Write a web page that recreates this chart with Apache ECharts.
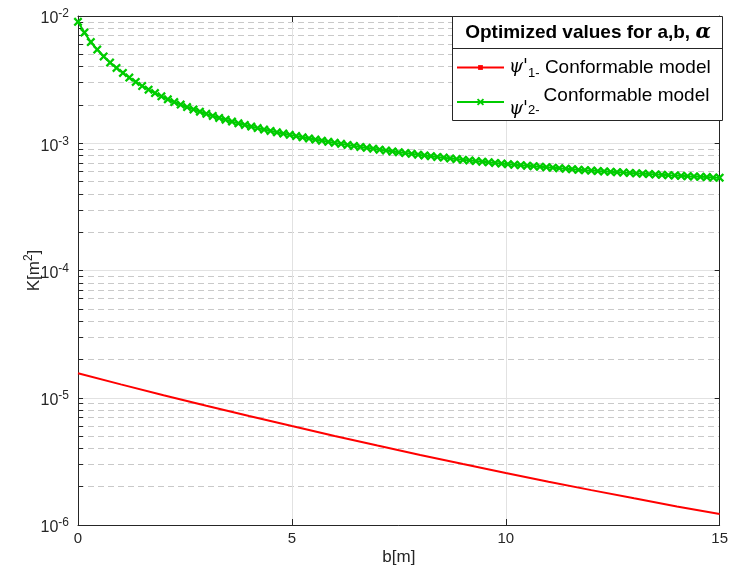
<!DOCTYPE html>
<html><head><meta charset="utf-8">
<script src="https://cdn.jsdelivr.net/npm/echarts@6/dist/echarts.min.js"></script>
<style>html,body{margin:0;padding:0;background:#fff}#c{width:731px;height:576px}</style>
</head><body><div id="c"></div>
<script>
const FONT = 'Liberation Sans, Arial, sans-serif';
const AX = '#262626';

// ---- tick definitions ----
const xTicks = [0, 5, 10, 15];
const yDecades = [1e-6, 1e-5, 1e-4, 1e-3, 1e-2];
const minorMultipliers = [2, 3, 4, 5, 6, 7, 8, 9];

// ---- series 1 (red): psi'_1 Conformable model ----
const redB = [0,1,2,3,4,5,6,7,8,9,10,11,12,13,14,15];
const redK = [1.556e-5,1.274e-5,1.048e-5,8.66e-6,7.18e-6,5.99e-6,5.01e-6,4.21e-6,
              3.55e-6,3.01e-6,2.56e-6,2.19e-6,1.88e-6,1.62e-6,1.40e-6,1.22e-6];

// ---- series 2 (green): psi'_2 Conformable model ----
const greenB = [0,0.15,0.3,0.45,0.6,0.75,0.9,1.05,1.2,1.35,1.5,1.65,1.8,1.95,2.1,2.25,2.4,2.55,2.7,2.85,
  3,3.15,3.3,3.45,3.6,3.75,3.9,4.05,4.2,4.35,4.5,4.65,4.8,4.95,5.1,5.25,5.4,5.55,5.7,5.85,
  6,6.15,6.3,6.45,6.6,6.75,6.9,7.05,7.2,7.35,7.5,7.65,7.8,7.95,8.1,8.25,8.4,8.55,8.7,8.85,
  9,9.15,9.3,9.45,9.6,9.75,9.9,10.05,10.2,10.35,10.5,10.65,10.8,10.95,11.1,11.25,11.4,11.55,11.7,11.85,
  12,12.15,12.3,12.45,12.6,12.75,12.9,13.05,13.2,13.35,13.5,13.65,13.8,13.95,14.1,14.25,14.4,14.55,14.7,14.85,15];
// values in units of 1e-3 m^2
const greenK_milli = [9.00,7.41,6.24,5.45,4.81,4.31,3.91,3.57,3.28,3.03,
  2.818,2.636,2.477,2.339,2.213,2.109,2.014,1.923,1.845,1.770,
  1.702,1.641,1.581,1.531,1.479,1.435,1.393,1.352,1.315,1.282,
  1.250,1.219,1.191,1.164,1.138,1.114,1.091,1.069,1.047,1.026,
  1.007,0.989,0.971,0.953,0.935,0.920,0.906,0.891,0.877,0.863,
  0.849,0.838,0.826,0.813,0.802,0.791,0.780,0.771,0.760,0.752,
  0.741,0.733,0.724,0.716,0.708,0.700,0.693,0.685,0.679,0.673,
  0.667,0.661,0.655,0.649,0.643,0.637,0.631,0.625,0.619,0.614,
  0.610,0.605,0.601,0.597,0.593,0.589,0.585,0.581,0.577,0.573,
  0.569,0.565,0.561,0.558,0.555,0.551,0.548,0.545,0.542,0.538,0.536];

const legendTitle = 'Optimized values for a,b, ';
const legendLabels = { psi1: '{psi|\u03c8\'}{sub|1-} Conformable model',
                       psi2: '{psi|\u03c8\'}{sub2|2-}{txt|Conformable model}' };

// build tick lists
const minorTicks = [];
for (let d = 0; d < yDecades.length - 1; d++) {
  for (const m of minorMultipliers) minorTicks.push(+(m * yDecades[d]).toPrecision(3));
}
const allTicks = yDecades.concat(minorTicks).sort((a, b) => a - b);

const redData = redB.map((b, i) => [b, redK[i]]);
const greenData = greenB.map((b, i) => [b, greenK_milli[i] * 1e-3]);

const chart = echarts.init(document.getElementById('c'), null, { renderer: 'canvas' });
const xSym = 'path://M0,1.8 L1.8,0 L5,3.2 L8.2,0 L10,1.8 L6.8,5 L10,8.2 L8.2,10 L5,6.8 L1.8,10 L0,8.2 L3.2,5 Z';

chart.setOption({
  animation: false,
  backgroundColor: '#fff',
  textStyle: { fontFamily: FONT },
  grid: { left: 78, right: 8, top: 16, bottom: 51, containLabel: false },
  xAxis: [
    { type: 'value', min: 0, max: 15, interval: 5, position: 'bottom',
      axisLine: { show: true, onZero: false, lineStyle: { color: AX, width: 1 } },
      axisTick: { show: true, inside: true, length: 6, lineStyle: { color: AX } },
      axisLabel: { color: AX, fontSize: 15, margin: 6, fontFamily: FONT },
      splitLine: { show: true, lineStyle: { color: '#e2e2e2', width: 1 } },
      name: 'b[m]', nameLocation: 'middle', nameGap: 24, nameMoveOverlap: false,
      nameTextStyle: { color: AX, fontSize: 17, fontFamily: FONT } },
    { type: 'value', min: 0, max: 15, interval: 5, position: 'top',
      axisLine: { show: true, onZero: false, lineStyle: { color: AX, width: 1 } },
      axisTick: { show: true, inside: true, length: 6, lineStyle: { color: AX } },
      axisLabel: { show: false }, splitLine: { show: false } }
  ],
  yAxis: [
    { type: 'log', logBase: 10, min: 1e-6, max: 1e-2, position: 'left',
      axisLine: { show: true, onZero: false, lineStyle: { color: AX, width: 1 } },
      axisTick: { show: true, inside: true, length: 5, customValues: allTicks, lineStyle: { color: AX } },
      axisLabel: { customValues: yDecades, color: AX, fontFamily: FONT, margin: 9,
        formatter: v => '{b|10}{s|' + Math.round(Math.log10(v)) + '}',
        rich: { b: { fontSize: 16, color: AX, fontFamily: FONT, padding: [6, 0, 0, 0], verticalAlign: 'bottom' },
                s: { fontSize: 12, color: AX, fontFamily: FONT, padding: [3, 0, 0, 0], verticalAlign: 'top' } } },
      splitLine: { show: true, lineStyle: { color: '#c9c9c9', width: 1, type: [6, 4] } },
      name: 'K[m{s|2}]', nameLocation: 'middle', nameGap: 33, nameRotate: 90, nameMoveOverlap: false,
      nameTextStyle: { color: AX, fontSize: 17, fontFamily: FONT,
        rich: { s: { fontSize: 12, color: AX, verticalAlign: 'bottom', padding: [0, 0, 10, 0] } } } },
    { type: 'log', logBase: 10, min: 1e-6, max: 1e-2, interval: 1, position: 'right',
      axisLine: { show: true, onZero: false, lineStyle: { color: AX, width: 1 } },
      axisTick: { show: true, inside: true, length: 5, lineStyle: { color: AX } },
      axisLabel: { show: false },
      splitLine: { show: true, lineStyle: { color: '#e2e2e2', width: 1 } } }
  ],
  legend: [
    { data: ['psi1'], orient: 'vertical', left: 456, top: 58, itemWidth: 47, itemHeight: 6,
      z: 100, padding: 0, itemGap: 0,
      formatter: n => legendLabels[n],
      textStyle: { color: '#000', fontSize: 19, fontFamily: FONT,
        rich: { psi: { fontSize: 18, fontStyle: 'italic', fontFamily: 'DejaVu Serif, serif', color: '#000' },
                sub: { fontSize: 13, color: '#000', verticalAlign: 'top', padding: [12, 0, 0, 0] } } } },
    { data: ['psi2'], orient: 'vertical', left: 456, top: 86, itemWidth: 47, itemHeight: 9,
      z: 100, padding: 0, itemGap: 0,
      formatter: n => legendLabels[n],
      textStyle: { color: '#000', fontSize: 19, fontFamily: FONT,
        rich: { psi: { fontSize: 18, fontStyle: 'italic', fontFamily: 'DejaVu Serif, serif', color: '#000', padding: [14, 0, 0, 0] },
                sub2: { fontSize: 13, color: '#000', padding: [16, 4, 0, 0] },
                txt: { fontSize: 19, color: '#000', padding: [0, 0, 13, 0] } } } }
  ],
  graphic: [
    { type: 'rect', z: 50, shape: { x: 452.5, y: 16.5, width: 270, height: 104 },
      style: { fill: '#fff', stroke: AX, lineWidth: 1 } },
    { type: 'line', z: 51, shape: { x1: 452.5, y1: 48.5, x2: 722.5, y2: 48.5 },
      style: { stroke: AX, lineWidth: 1 } },
    { type: 'text', z: 52, x: 588, y: 33,
      style: { text: '{t|' + legendTitle + '}{a|\u03b1}', align: 'center', verticalAlign: 'middle',
        rich: { t: { fontSize: 19, fontWeight: 'bold', fontFamily: FONT, fill: '#000' },
                a: { fontSize: 20, fontWeight: 'bold', fontStyle: 'italic', fontFamily: 'DejaVu Serif, serif', fill: '#000' } } } }
  ],
  series: [
    { name: 'psi1', type: 'line', xAxisIndex: 0, yAxisIndex: 0, data: redData,
      symbol: 'rect', symbolSize: 3, showSymbol: false, z: 10,
      lineStyle: { color: '#ff0000', width: 2 }, itemStyle: { color: '#ff0000' } },
    { name: 'psi2', type: 'line', xAxisIndex: 0, yAxisIndex: 0, data: greenData,
      symbol: xSym, symbolSize: 9, showSymbol: true, z: 10,
      lineStyle: { color: '#00cc00', width: 2 }, itemStyle: { color: '#00cc00' } }
  ]
});
</script>
</body></html>
